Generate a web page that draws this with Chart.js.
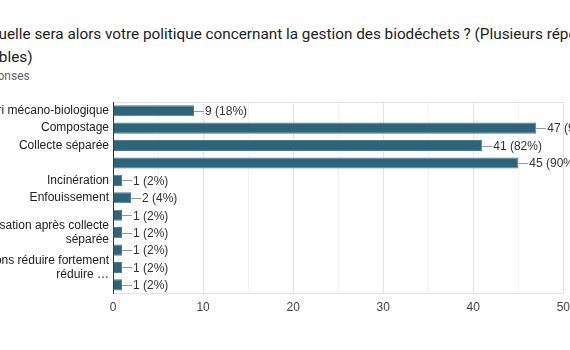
<!DOCTYPE html>
<html>
<head>
<meta charset="utf-8">
<script src="https://cdn.jsdelivr.net/npm/chart.js@4"></script>
<style>
  body { margin: 0; width: 570px; height: 350px; overflow: hidden; background: #fff; position: relative; }
  .title { position: absolute; font-family: Roboto, Arial, sans-serif; font-size: 15.3px; color: #202124; white-space: nowrap; }
  .sub { position: absolute; font-family: Roboto, Arial, sans-serif; font-size: 12px; color: #5f6368; white-space: nowrap; }
  #wrap { position: absolute; left: 0; top: 90px; width: 577px; height: 260px; }
</style>
</head>
<body>
<div class="title" style="left:-12px; top:25px;">Quelle sera alors votre politique concernant la gestion des biodéchets ? (Plusieurs réponses</div>
<div class="title" style="left:-38px; top:48px;">possibles)</div>
<div class="sub" style="left:-36px; top:69px;">50 réponses</div>
<div id="wrap"><canvas id="chart"></canvas></div>
<script>
const categories = [
  'Tri mécano-biologique',
  'Compostage',
  'Collecte séparée',
  '',
  'Incinération',
  'Enfouissement',
  '',
  ['Méthanisation après collecte', 'séparée'],
  '',
  ['Nous voulons réduire fortement', 'réduire …'],
  ''
];
const counts = [9, 47, 41, 45, 1, 2, 1, 1, 1, 1, 1];
const totalResponses = 50;
const xTicks = [0, 10, 20, 30, 40, 50];

const barColor = '#2d6479';

// value labels with a short leader line, like the forms summary charts
const valueLabels = {
  id: 'valueLabels',
  afterDatasetsDraw(chart) {
    const ctx = chart.ctx;
    const meta = chart.getDatasetMeta(0);
    ctx.save();
    ctx.font = '12px "Liberation Sans", Arial, sans-serif';
    ctx.textBaseline = 'middle';
    meta.data.forEach((bar, i) => {
      const v = counts[i];
      const pct = Math.round(v / totalResponses * 100);
      ctx.strokeStyle = '#999';
      ctx.lineWidth = 1;
      ctx.beginPath();
      ctx.moveTo(bar.x, Math.round(bar.y) + 0.5);
      ctx.lineTo(bar.x + 10, Math.round(bar.y) + 0.5);
      ctx.stroke();
      ctx.fillStyle = '#333';
      ctx.fillText(v + ' (' + pct + '%)', bar.x + 11, bar.y + 1);
    });
    ctx.restore();
  }
};

new Chart(document.getElementById('chart'), {
  type: 'bar',
  data: {
    labels: categories,
    datasets: [{
      data: counts,
      backgroundColor: barColor,
      borderColor: '#4a7f93',
      borderWidth: 1,
      barPercentage: 0.8,
      categoryPercentage: 0.8
    }]
  },
  plugins: [valueLabels],
  options: {
    indexAxis: 'y',
    responsive: true,
    maintainAspectRatio: false,
    animation: false,
    layout: { padding: { top: 12, right: 3, bottom: 28, left: 0 } },
    plugins: { legend: { display: false }, tooltip: { enabled: false } },
    scales: {
      x: {
        min: 0,
        max: 50,
        ticks: {
          stepSize: 5,
          padding: 7,
          color: '#444',
          font: { size: 12, family: '"Liberation Sans", Arial, sans-serif' },
          callback: v => xTicks.includes(v) ? v : ''
        },
        grid: {
          drawTicks: false,
          color: c => (c.tick && c.tick.value % 10 === 0) ? '#e3e3e3' : '#f3f3f3'
        },
        border: { color: '#e3e3e3' }
      },
      y: {
        afterFit: s => { s.width = 113; },
        ticks: {
          padding: 4,
          color: '#222',
          font: { size: 12, family: '"Liberation Sans", Arial, sans-serif' },
          autoSkip: false
        },
        grid: {
          drawTicks: false,
          color: c => (c.index === 0 || c.index === categories.length) ? '#e3e3e3' : 'rgba(0,0,0,0)'
        },
        border: { color: '#333' }
      }
    }
  }
});
</script>
</body>
</html>
